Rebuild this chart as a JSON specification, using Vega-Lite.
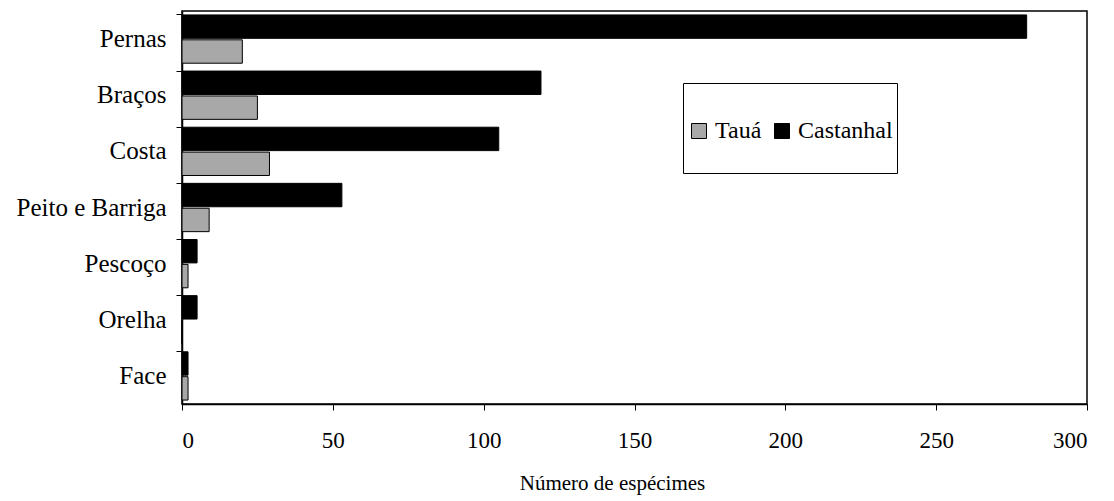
{
  "$schema": "https://vega.github.io/schema/vega-lite/v6.json",
  "width": 905,
  "height": 393,
  "autosize": {"type": "none"},
  "padding": {"left": 182, "top": 11, "right": 27, "bottom": 97},
  "background": "white",
  "config": {
    "font": "Liberation Serif",
    "view": {"stroke": "black", "strokeWidth": 1.5},
    "axis": {"domainColor": "black", "tickColor": "black", "labelColor": "black", "titleColor": "black", "grid": false, "domainWidth": 1.5, "labelFont": "Liberation Serif", "titleFont": "Liberation Serif"},
    "legend": {"labelFont": "Liberation Serif", "titleFont": "Liberation Serif"}
  },
  "data": {
    "values": [
      {"local": "Castanhal", "parte": "Pernas", "n": 280},
      {"local": "Tauá", "parte": "Pernas", "n": 20},
      {"local": "Castanhal", "parte": "Braços", "n": 119},
      {"local": "Tauá", "parte": "Braços", "n": 25},
      {"local": "Castanhal", "parte": "Costa", "n": 105},
      {"local": "Tauá", "parte": "Costa", "n": 29},
      {"local": "Castanhal", "parte": "Peito e Barriga", "n": 53},
      {"local": "Tauá", "parte": "Peito e Barriga", "n": 9},
      {"local": "Castanhal", "parte": "Pescoço", "n": 5},
      {"local": "Tauá", "parte": "Pescoço", "n": 2},
      {"local": "Castanhal", "parte": "Orelha", "n": 5},
      {"local": "Tauá", "parte": "Orelha", "n": 0},
      {"local": "Castanhal", "parte": "Face", "n": 2},
      {"local": "Tauá", "parte": "Face", "n": 2}
    ]
  },
  "mark": {"type": "bar", "stroke": "black", "strokeWidth": 1},
  "encoding": {
    "y": {
      "field": "parte",
      "type": "nominal",
      "sort": ["Pernas", "Braços", "Costa", "Peito e Barriga", "Pescoço", "Orelha", "Face"],
      "scale": {"paddingInner": 0.14, "paddingOuter": 0.07},
      "axis": {"title": null, "bandPosition": 0, "tickSize": 6, "labelPadding": 10, "labelFontSize": 25, "labelLimit": 300, "labelFont": "Liberation Serif"}
    },
    "yOffset": {
      "field": "local",
      "type": "nominal",
      "scale": {"domain": ["Castanhal", "Tauá"], "paddingInner": 0.06}
    },
    "x": {
      "field": "n",
      "type": "quantitative",
      "scale": {"domain": [0, 300], "nice": false},
      "axis": {"title": "Número de espécimes", "values": [0, 50, 100, 150, 200, 250, 300], "tickSize": 6, "labelPadding": 19, "labelFontSize": 23, "titleFontSize": 21, "titleFontWeight": "normal", "titlePadding": 20, "titleX": 430, "titleAlign": "center", "titleAnchor": "start", "labelFont": "Liberation Serif", "titleFont": "Liberation Serif"}
    },
    "color": {
      "field": "local",
      "type": "nominal",
      "scale": {"domain": ["Tauá", "Castanhal"], "range": ["#a8a8a8", "#000000"]},
      "legend": {
        "title": "\u00a0",
        "titleFontSize": 20,
        "titlePadding": 12,
        "titleFont": "Liberation Serif",
        "orient": "none",
        "legendX": 501,
        "legendY": 72,
        "direction": "horizontal",
        "symbolType": "square",
        "symbolSize": 225,
        "symbolStrokeColor": "black",
        "symbolStrokeWidth": 1,
        "labelFont": "Liberation Serif",
        "labelFontSize": 24,
        "labelColor": "black",
        "labelOffset": 4,
        "columnPadding": 8,
        "labelExpr": "[datum.label, '']",
        "labelLineHeight": 41,
        "labelLimit": 300,
        "strokeColor": "black",
        "padding": 4
      }
    }
  }
}
